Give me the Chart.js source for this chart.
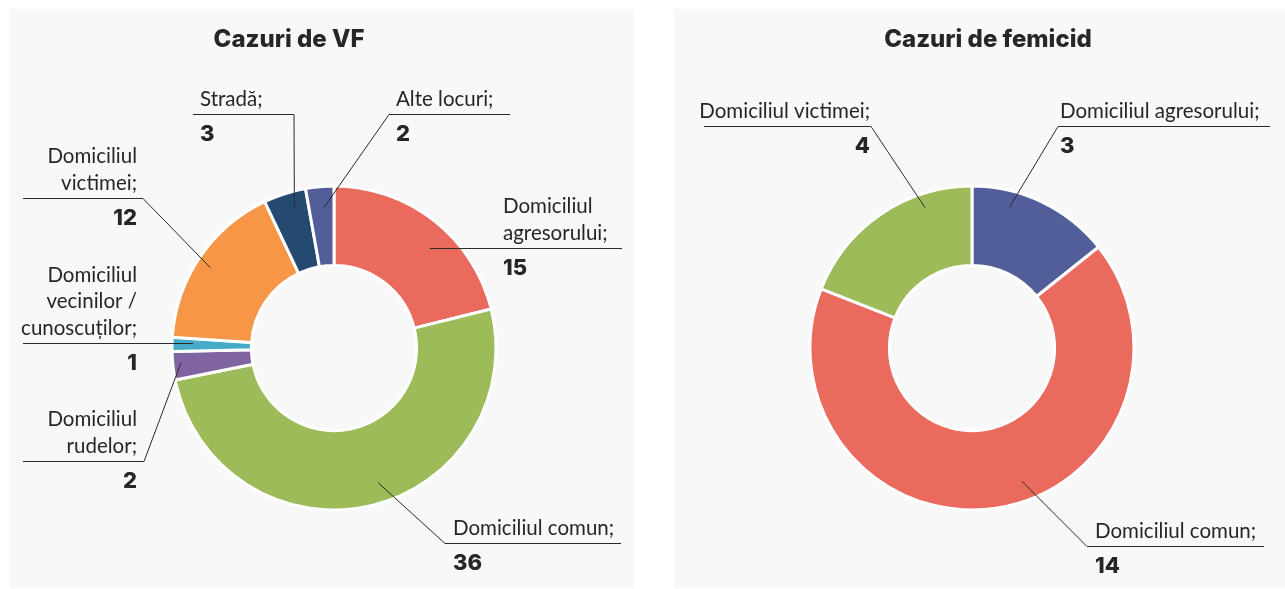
<!DOCTYPE html>
<html>
<head>
<meta charset="utf-8">
<script src="https://cdn.jsdelivr.net/npm/chart.js@4.4.1/dist/chart.umd.min.js"></script>
<style>
  html, body { margin: 0; padding: 0; background: #fff; }
  body { width: 1285px; height: 589px; position: relative; overflow: hidden; font-family: Lato, sans-serif; }
  .panel { position: absolute; top: 9px; height: 579px; background: #f8f8f8; }
  #panelVF { left: 9px; width: 625px; }
  #panelFem { left: 674px; width: 611px; }
  canvas { display: block; }
</style>
</head>
<body>
<div class="panel" id="panelVF"><canvas id="chartVF" width="625" height="579"></canvas></div>
<div class="panel" id="panelFem"><canvas id="chartFem" width="611" height="579"></canvas></div>
<script>
// --- data ---
const vfTitle = 'Cazuri de VF';
const vfLabels = ['Domiciliul agresorului', 'Domiciliul comun', 'Domiciliul rudelor',
  'Domiciliul vecinilor / cunoscuților', 'Domiciliul victimei', 'Stradă', 'Alte locuri'];
const vfValues = [15, 36, 2, 1, 12, 3, 2];
const vfColors = ['#ea6a5d', '#9dbb59', '#8064a2', '#45abc8', '#f79646', '#254a72', '#525e9a'];

const femTitle = 'Cazuri de femicid';
const femLabels = ['Domiciliul agresorului', 'Domiciliul comun', 'Domiciliul victimei'];
const femValues = [3, 14, 4];
const femColors = ['#525e9a', '#ea6a5d', '#9dbb59'];

// --- callout layout (offsets from donut centre, px) ---
// t = position along the slice, rf = fraction of outer radius for the leader start
const vfCallouts = [
  { breaks: [1, 1],    align: 'left',  tx: 169,  uy: -100, ux: [96, 288],    t: 0.58, rf: 0.855 },
  { breaks: [2],       align: 'left',  tx: 119,  uy: 195,  ux: [111, 287],   t: 0.47, rf: 0.875 },
  { breaks: [1, 1],    align: 'right', tx: -197, uy: 113,  ux: [-311, -190], t: 0.57, rf: 0.95 },
  { breaks: [1, 2, 1], align: 'right', tx: -197, uy: -5,   ux: [-311, -141], t: 0.6,  rf: 0.87 },
  { breaks: [1, 1],    align: 'right', tx: -197, uy: -150, ux: [-311, -191], t: 0.48, rf: 0.91 },
  { breaks: [1],       align: 'left',  tx: -134, uy: -234, ux: [-141, -40],  t: 0.63, rf: 0.9 },
  { breaks: [2],       align: 'left',  tx: 62,   uy: -234, ux: [55, 176],    t: 0.6,  rf: 0.87 }
];
const vfElbows = [[96, -100], [111, 195], [-190, 113], [-141, -5], [-191, -150], [-40, -234], [55, -234]];

const femCallouts = [
  { breaks: [2], align: 'left',  tx: 88,   uy: -222, ux: [86, 298],    t: 0.29, rf: 0.9 },
  { breaks: [2], align: 'left',  tx: 123,  uy: 198,  ux: [115, 292],   t: 0.45, rf: 0.88 },
  { breaks: [2], align: 'right', tx: -102, uy: -222, ux: [-268, -101], t: 0.73, rf: 0.915 }
];
const femElbows = [[86, -222], [115, 198], [-101, -222]];

const TEXT = '#262626';
const LINE = '#2a2a2a';

function splitLines(label, breaks) {
  const words = (label + ';').split(' ');
  const lines = [];
  let k = 0;
  breaks.forEach(n => { lines.push(words.slice(k, k + n).join(' ')); k += n; });
  return lines;
}

const calloutPlugin = {
  id: 'callouts',
  afterDatasetsDraw(chart, args, opts) {
    const ctx = chart.ctx;
    const arcs = chart.getDatasetMeta(0).data;
    const cx = arcs[0].x, cy = arcs[0].y;
    const labels = chart.data.labels;
    const values = chart.data.datasets[0].data;

    ctx.save();
    ctx.fillStyle = TEXT;
    ctx.textBaseline = 'alphabetic';
    ctx.font = '800 24px Inter';
    ctx.textAlign = 'center';
    ctx.fillText(opts.title, cx + opts.titleAt[0], cy + opts.titleAt[1]);

    opts.callouts.forEach((c, i) => {
      const arc = arcs[i];
      const a = arc.startAngle + (arc.endAngle - arc.startAngle) * c.t;
      const r = arc.outerRadius * c.rf;
      const ax = cx + Math.cos(a) * r, ay = cy + Math.sin(a) * r;
      const el = opts.elbows[i];
      const uy = Math.round(cy + c.uy) + 0.5;

      ctx.strokeStyle = LINE;
      ctx.lineWidth = 1;
      ctx.beginPath();
      ctx.moveTo(ax, ay);
      ctx.lineTo(cx + el[0], uy);
      ctx.stroke();
      ctx.beginPath();
      ctx.moveTo(cx + c.ux[0], uy);
      ctx.lineTo(cx + c.ux[1], uy);
      ctx.stroke();

      ctx.textAlign = c.align;
      ctx.fillStyle = TEXT;
      ctx.font = '20.5px Lato';
      const lines = splitLines(labels[i], c.breaks);
      lines.forEach((ln, j) => {
        const by = uy - 9 - (lines.length - 1 - j) * 26.5;
        ctx.fillText(ln, cx + c.tx, by);
      });
      ctx.font = '800 22px Inter';
      ctx.fillText(String(values[i]), cx + c.tx, uy + 26);
    });
    ctx.restore();
  }
};

function makeDonut(id, labels, values, colors, padding, title, titleAt, callouts, elbows) {
  return new Chart(document.getElementById(id), {
    type: 'doughnut',
    data: {
      labels: labels,
      datasets: [{
        data: values,
        backgroundColor: colors,
        borderColor: '#ffffff',
        borderWidth: 3,
        hoverBorderWidth: 3,
        hoverOffset: 0,
        offset: 0
      }]
    },
    options: {
      responsive: false,
      animation: false,
      cutout: '51%',
      layout: { padding: padding },
      plugins: {
        legend: { display: false },
        tooltip: { enabled: false },
        title: { display: false },
        callouts: { title: title, titleAt: titleAt, callouts: callouts, elbows: elbows }
      }
    },
    plugins: [calloutPlugin]
  });
}

makeDonut('chartVF', vfLabels, vfValues, vfColors,
  { left: 161.5, right: 136.5, top: 175.5, bottom: 76.5 },
  vfTitle, [-45, -301], vfCallouts, vfElbows);
makeDonut('chartFem', femLabels, femValues, femColors,
  { left: 134.5, right: 149.5, top: 175.5, bottom: 76.5 },
  femTitle, [16, -301], femCallouts, femElbows);
</script>
</body>
</html>
